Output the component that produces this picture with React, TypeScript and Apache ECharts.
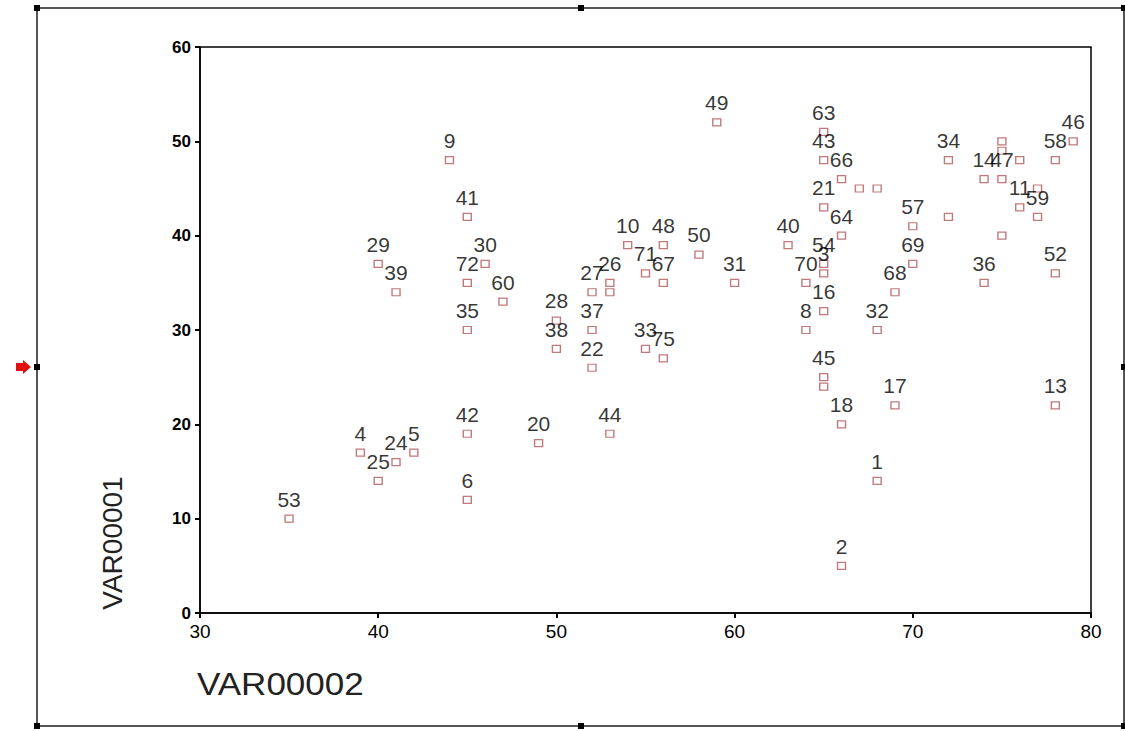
import React, { useEffect, useRef } from "react";
import * as echarts from "echarts";

// Case labels ("" = label hidden in the original), VAR00002 (x) and VAR00001 (y)
const caseLabels = [
  "1", "2", "3", "4", "5", "6", "8", "9", "10", "11",
  "13", "14", "16", "17", "18", "20", "21", "22", "24", "25",
  "26", "27", "28", "29", "30", "31", "32", "33", "34", "35",
  "36", "37", "38", "39", "40", "41", "42", "43", "44", "45",
  "46", "47", "48", "49", "50", "52", "53", "54", "57", "58",
  "59", "60", "63", "64", "66", "67", "68", "69", "70", "71",
  "72", "75", "", "", "", "", "", "", "", "",
  "", "",
];
const var00002 = [
  68, 66, 65, 39, 42, 45, 64, 44, 54, 76,
  78, 74, 65, 69, 66, 49, 65, 52, 41, 40,
  53, 52, 50, 40, 46, 60, 68, 55, 72, 45,
  74, 52, 50, 41, 63, 45, 45, 65, 53, 65,
  79, 75, 56, 59, 58, 78, 35, 65, 70, 78,
  77, 47, 65, 66, 66, 56, 69, 70, 64, 55,
  45, 56, 53, 65, 67, 68, 72, 75, 75, 76,
  77, 75,
];
const var00001 = [
  14, 5, 36, 17, 17, 12, 30, 48, 39, 43,
  22, 46, 32, 22, 20, 18, 43, 26, 16, 14,
  35, 34, 31, 37, 37, 35, 30, 28, 48, 30,
  35, 30, 28, 34, 39, 42, 19, 48, 19, 25,
  50, 46, 39, 52, 38, 36, 10, 37, 41, 48,
  42, 33, 51, 40, 46, 35, 34, 37, 35, 36,
  35, 27, 34, 24, 45, 45, 42, 50, 49, 48,
  45, 40,
];
const xTicks = [30, 40, 50, 60, 70, 80];
const yTicks = [0, 10, 20, 30, 40, 50, 60];

export default function App() {
  const ref = useRef<HTMLDivElement>(null);
  useEffect(() => {
    if (!ref.current) return;
    const chart = echarts.init(ref.current, null, { renderer: "svg" });
    const data = var00002.map((x, i) => ({ name: caseLabels[i], value: [x, var00001[i]] }));
    const font = "Liberation Sans, Arial, sans-serif";
    const handle = (x: number, y: number) => ({
      type: "rect",
      shape: { x: x - 3, y: y - 3, width: 6, height: 6 },
      style: { fill: "#000" },
      z: 10,
    });
    chart.setOption({
      animation: false,
      backgroundColor: "#fff",
      grid: {
        left: 200, top: 47, right: 34, bottom: 118,
        show: true, borderColor: "#000", borderWidth: 1.5, backgroundColor: "#fff",
      },
      xAxis: {
        type: "value", min: xTicks[0], max: xTicks[xTicks.length - 1], interval: 10,
        axisLine: { show: true, lineStyle: { color: "#000", width: 1.5 } },
        axisTick: { show: true, length: 5, lineStyle: { color: "#000", width: 2 } },
        axisLabel: { color: "#000", fontSize: 19, fontFamily: font, margin: 9 },
        splitLine: { show: false },
      },
      yAxis: {
        type: "value", min: yTicks[0], max: yTicks[yTicks.length - 1], interval: 10,
        axisLine: { show: true, lineStyle: { color: "#000", width: 1.5 } },
        axisTick: { show: true, length: 5, lineStyle: { color: "#000", width: 2 } },
        axisLabel: { color: "#000", fontSize: 17, fontFamily: font, margin: 9, fontWeight: "bold" },
        splitLine: { show: false },
      },
      series: [
        {
          type: "scatter",
          data,
          symbol: "rect",
          symbolSize: [8, 7],
          itemStyle: { color: "#fff", borderColor: "#b0585c", borderWidth: 1.3 },
          label: {
            show: true,
            position: "top",
            distance: 5,
            formatter: (p: any) => p.name,
            color: "#000",
            fontSize: 21,
            fontFamily: font,
          },
          emphasis: { disabled: true },
        },
      ],
      graphic: [
        {
          type: "rect",
          shape: { x: 37, y: 8, width: 1087, height: 718 },
          style: { fill: "none", stroke: "#555", lineWidth: 2 },
          z: 5,
        },
        handle(37, 8), handle(581, 8), handle(1124, 8),
        handle(37, 367), handle(1124, 367),
        handle(37, 726), handle(581, 726), handle(1124, 726),
        {
          type: "polygon",
          shape: { points: [[16, 363], [23, 363], [23, 360], [31, 367], [23, 374], [23, 371], [16, 371]] },
          style: { fill: "#e01010" },
          z: 10,
        },
        {
          type: "text",
          x: 197, y: 684,
          scaleX: 1.13,
          style: { text: "VAR00002", fontSize: 31, fontFamily: font, fill: "#222", verticalAlign: "middle", align: "left" },
          z: 10,
        },
        {
          type: "text",
          x: 112, y: 543,
          rotation: Math.PI / 2,
          style: { text: "VAR00001", fontSize: 28, fontFamily: font, fill: "#222", verticalAlign: "middle", align: "center" },
          z: 10,
        },
      ],
    });
    return () => chart.dispose();
  }, []);
  return <div ref={ref} style={{ position: "fixed", left: 0, top: 0, width: 1125, height: 731 }} />;
}
